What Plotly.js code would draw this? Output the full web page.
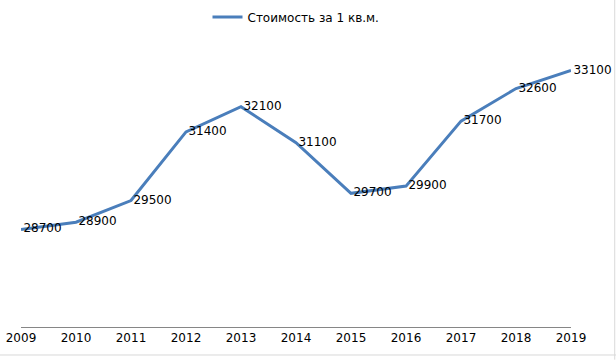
<!DOCTYPE html>
<html>
<head>
<meta charset="utf-8">
<script src="https://cdn.plot.ly/plotly-3.0.1.min.js"></script>
<style>html,body{margin:0;padding:0;background:#fff;}#chart{width:616px;height:360px;}</style>
</head>
<body>
<div id="chart"></div>
<script>
const years = ['2009','2010','2011','2012','2013','2014','2015','2016','2017','2018','2019'];
const costPerSqM = [28700, 28900, 29500, 31400, 32100, 31100, 29700, 29900, 31700, 32600, 33100];
const seriesName = 'Стоимость за 1 кв.м.';

const trace = {
  type: 'scatter',
  mode: 'lines+text',
  x: years,
  y: costPerSqM,
  name: seriesName,
  text: costPerSqM.map(v => '\u2009' + v),
  textposition: 'middle right',
  textfont: {family: 'DejaVu Sans', size: 12, color: '#000'},
  line: {color: '#4a7ebb', width: 3},
  cliponaxis: false,
  hoverinfo: 'none'
};

const layout = {
  width: 616, height: 360,
  margin: {l: 21, r: 45, t: 0, b: 33, pad: 0},
  paper_bgcolor: '#fff', plot_bgcolor: '#fff',
  font: {family: 'DejaVu Sans', size: 12, color: '#000'},
  showlegend: true,
  legend: {orientation: 'h', x: 0.5, xanchor: 'center', y: 0.948, yanchor: 'middle',
           font: {family: 'DejaVu Sans', size: 12, color: '#000'}, bgcolor: 'rgba(0,0,0,0)'},
  xaxis: {type: 'category', range: [0, 10], showgrid: false, zeroline: false,
          showline: true, linecolor: '#868686', linewidth: 1, ticks: '',
          tickfont: {family: 'DejaVu Sans', size: 12, color: '#000'}, fixedrange: true},
  yaxis: {range: [26000, 35052], visible: false, showgrid: false, zeroline: false, fixedrange: true},
  shapes: [
    {type: 'line', xref: 'paper', yref: 'paper', x0: -0.05, x1: 1.2, y0: -0.0856, y1: -0.0856, line: {color: '#d9d9d9', width: 1}},
    {type: 'line', xref: 'paper', yref: 'paper', x0: 1.0795, x1: 1.0795, y0: -0.1, y1: 1.2, line: {color: '#d9d9d9', width: 1}}
  ]
};

Plotly.newPlot('chart', [trace], layout, {staticPlot: true, displayModeBar: false});
</script>
</body>
</html>
